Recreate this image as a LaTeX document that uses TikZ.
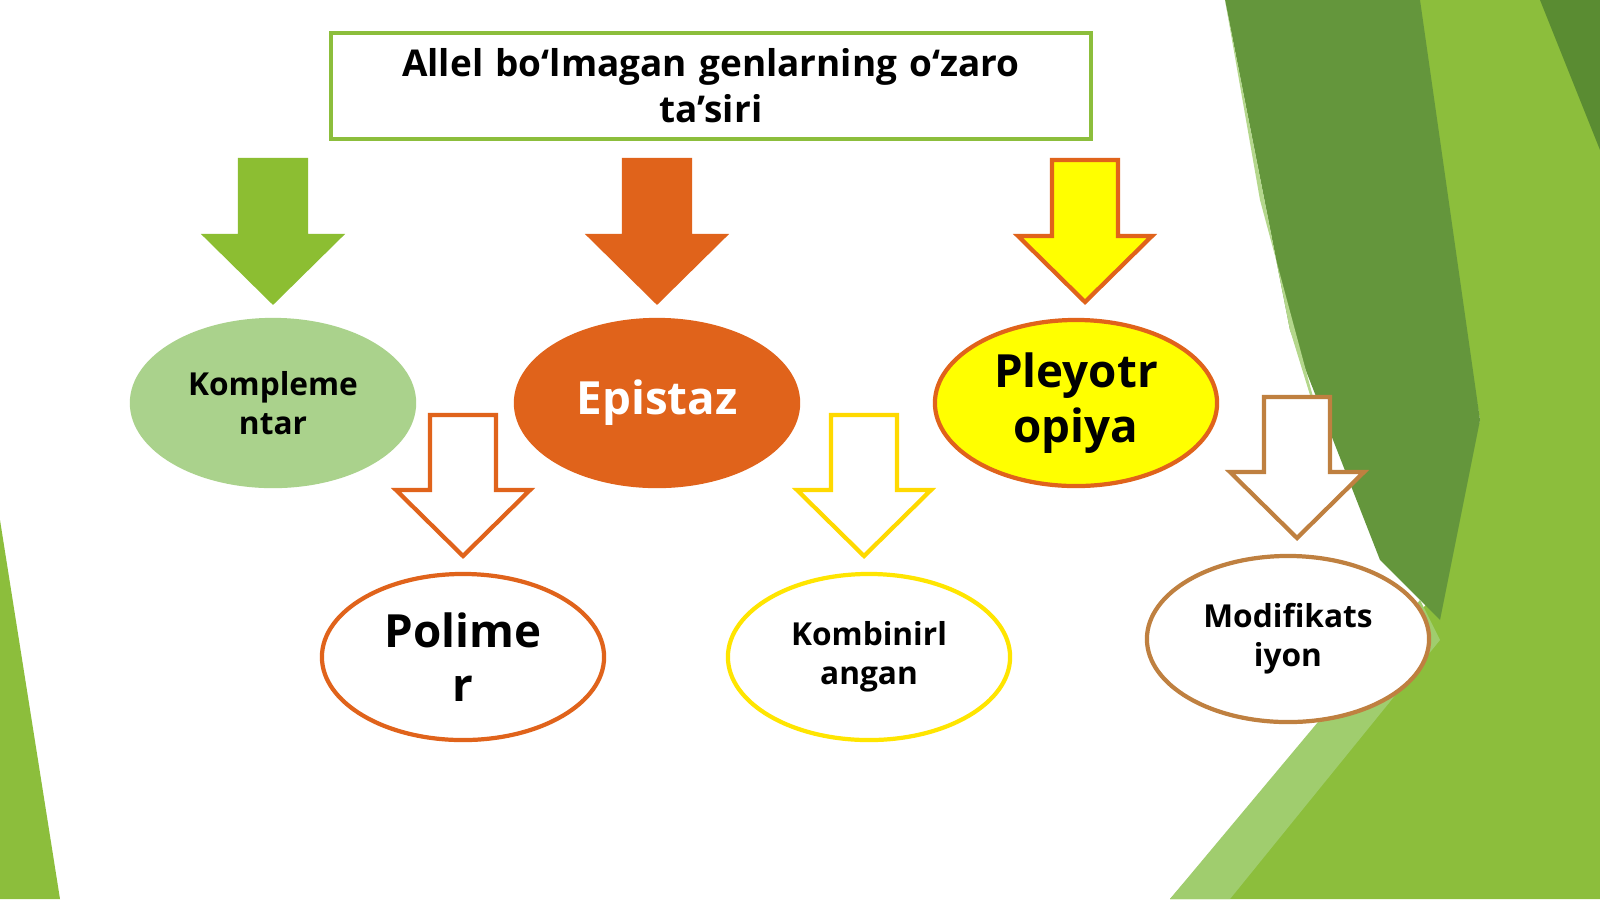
\documentclass[tikz,border=0pt]{standalone}
\usepackage{fontspec}
\setmainfont{Open Sans}
\usetikzlibrary{shapes.geometric}
\begin{document}
\begin{tikzpicture}[x=0.01cm,y=-0.01cm,font=\bfseries]
\useasboundingbox (0,0) rectangle (1600,899);
\fill[white] (0,0) rectangle (1600,899);
% background greens
\fill[color={rgb,255:red,140;green,190;blue,60}] (1410,0)--(1600,0)--(1600,899)--(1170,899)--(1430,600)--(1480,420)--cycle;
\fill[color={rgb,255:red,100;green,150;blue,60}] (1225,0)--(1420,0)--(1480,420)--(1440,620)--(1380,560)--(1290,330)--cycle;
\fill[color={rgb,255:red,180;green,215;blue,140}] (1225,0)--(1290,330)--(1330,460)--(1260,200)--cycle;
\fill[color={rgb,255:red,160;green,205;blue,110}] (1420,600)--(1440,640)--(1230,899)--(1170,899)--cycle;
\fill[color={rgb,255:red,90;green,140;blue,50}] (1540,0)--(1600,0)--(1600,150)--cycle;
\fill[color={rgb,255:red,140;green,190;blue,60}] (0,520)--(60,899)--(0,899)--cycle;
% title
\node[draw={rgb,255:red,140;green,190;blue,60},fill=white,line width=1pt,text width=7.6cm,align=center,minimum height=1.06cm,inner sep=0pt,font=\bfseries\fontsize{10.5}{13}\selectfont] (t) at (711,86) {Allel bo‘lmagan genlarning o‘zaro\\ta’siri};
% arrows
\newcommand\barrow[6]{% x, ytop, ybot, fill, draw, name
  \draw[fill=#4,draw=#5,line width=1.2pt] (#1-33,#2)--(#1+33,#2)--(#1+33,#3-66)--(#1+67,#3-66)--(#1,#3)--(#1-67,#3-66)--(#1-33,#3-66)--cycle;
  \coordinate (#6) at (#1,#3);}
\definecolor{gr}{RGB}{140,190,50}
\definecolor{or}{RGB}{224,99,27}
\definecolor{ye}{RGB}{255,255,0}
\barrow{273}{160}{302}{gr}{gr}{a1}
\barrow{657}{160}{302}{or}{or}{a2}
\barrow{1085}{160}{302}{ye}{or}{a3}
\barrow{463}{415}{556}{white}{or}{a4}
\barrow{864}{415}{556}{white}{ye!70!orange}{a5}
\barrow{1297}{397}{538}{white}{brown}{a6}
% ellipses
\tikzset{el/.style={draw,ellipse,minimum width=2.82cm,minimum height=1.66cm,line width=1.2pt,align=center,inner sep=0pt}}
\node[el,draw={rgb,255:red,170;green,210;blue,140},fill={rgb,255:red,170;green,210;blue,140},font=\bfseries\fontsize{9}{11}\selectfont] (k) at (273,403) {Kompleme\\ntar};
\node[el,draw=or,fill=or,text=white,font=\bfseries\fontsize{13}{15}\selectfont] (e) at (657,403) {Epistaz};
\node[el,draw=or,fill=ye,font=\bfseries\fontsize{13}{15.5}\selectfont] (p) at (1076,403) {Pleyotr\\opiya};
\node[el,draw=or,fill=white,font=\bfseries\fontsize{13}{15.5}\selectfont] (po) at (463,657) {Polime\\r};
\node[el,draw=ye!80!orange,fill=white,font=\bfseries\fontsize{9}{11}\selectfont] (ko) at (869,657) {Kombinirl\\angan};
\node[el,draw=brown,fill=white,font=\bfseries\fontsize{9}{11}\selectfont] (m) at (1288,639) {Modifikats\\iyon};
\end{tikzpicture}
\end{document}
